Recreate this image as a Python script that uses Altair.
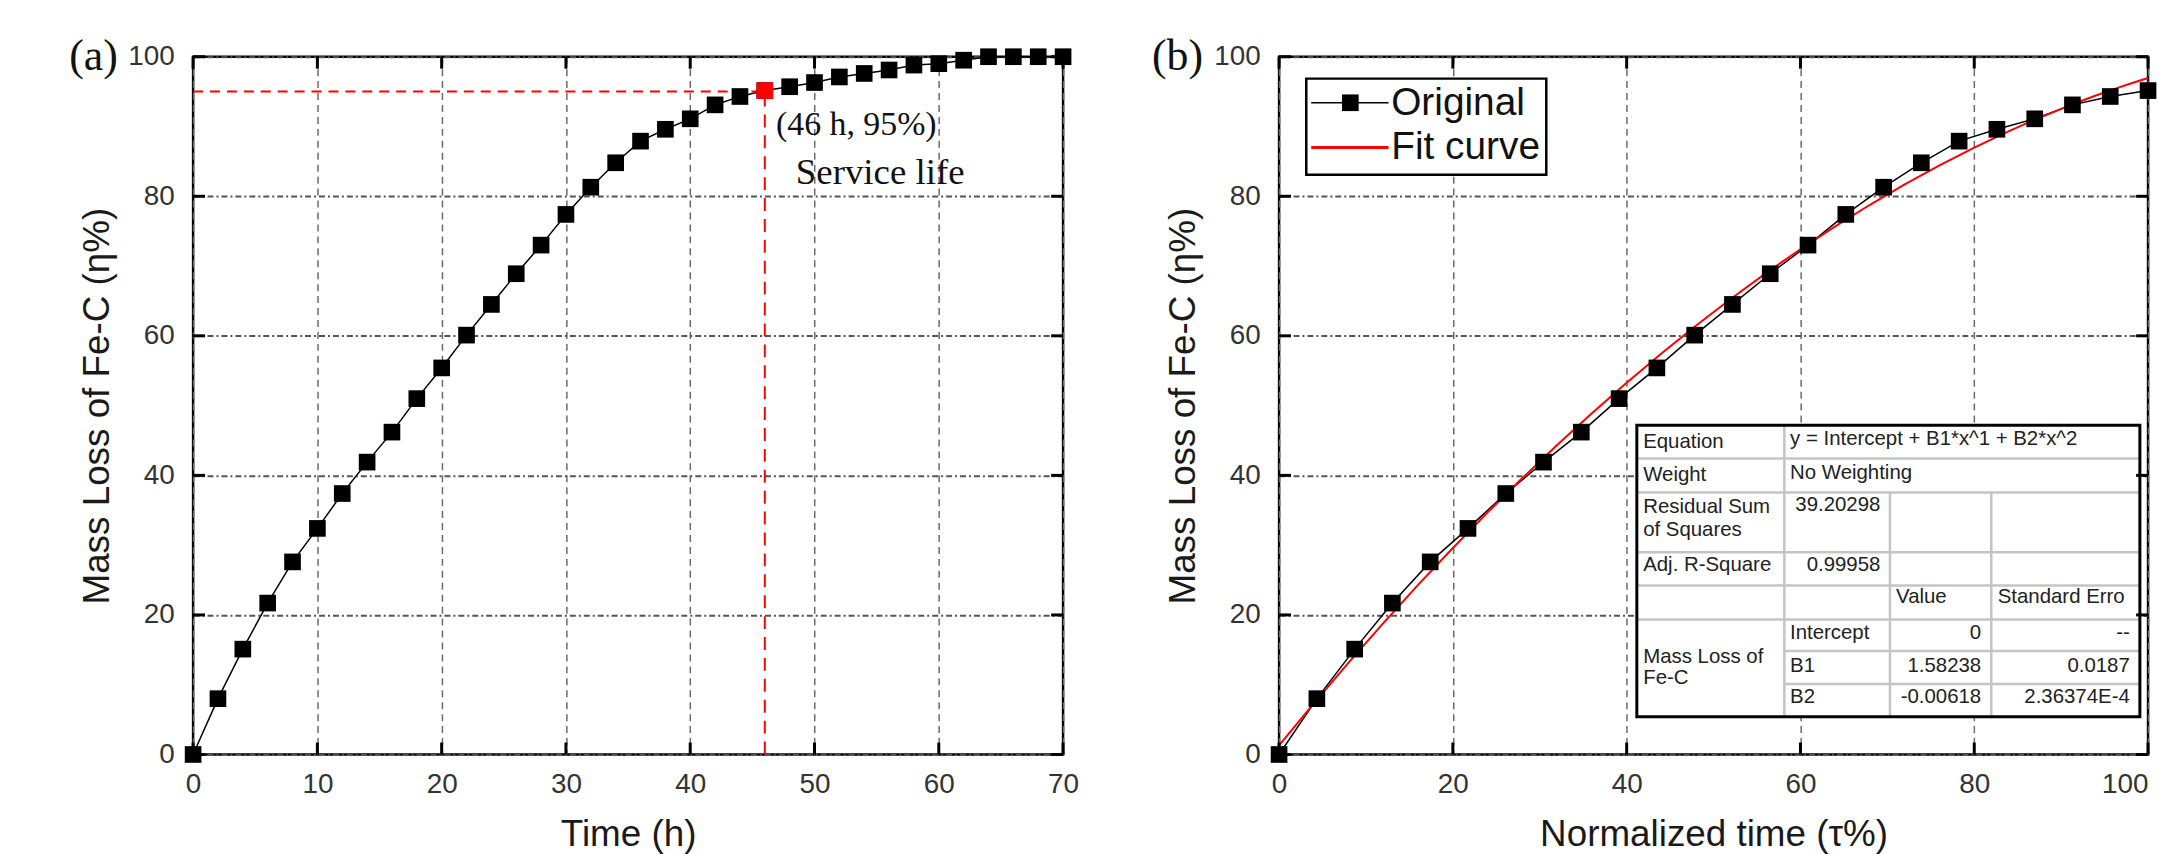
import altair as alt
import pandas as pd

# ---------------- data ----------------
time_h = [0, 2, 4, 6, 8, 10, 12, 14, 16, 18, 20, 22, 24, 26, 28, 30, 32, 34,
          36, 38, 40, 42, 44, 46, 48, 50, 52, 54, 56, 58, 60, 62, 64, 66, 68, 70]
mass_loss = [0.0, 8.0, 15.1, 21.7, 27.6, 32.4, 37.4, 41.9, 46.2, 51.0,
             55.4, 60.1, 64.5, 68.9, 73.0, 77.4, 81.3, 84.8, 87.9, 89.6,
             91.1, 93.1, 94.3, 95.15, 95.7, 96.3, 97.1, 97.6, 98.1, 98.8,
             99.0, 99.5, 100.0, 100.0, 100.0, 100.0]

norm_time = [0.0, 4.35, 8.70, 13.04, 17.39, 21.74, 26.09, 30.43, 34.78, 39.13,
             43.48, 47.83, 52.17, 56.52, 60.87, 65.22, 69.57, 73.91, 78.26,
             82.61, 86.96, 91.30, 95.65, 100.0]
norm_mass = [0.0, 8.0, 15.1, 21.7, 27.6, 32.4, 37.4, 41.9, 46.2, 51.0,
             55.4, 60.1, 64.5, 68.9, 73.0, 77.4, 81.3, 84.8, 87.9, 89.6,
             91.1, 93.1, 94.3, 95.15]

service_time = [46]
service_eta = [95]
service_point_eta = [95.15]
service_labels = ["(46 h, 95%)", "Service life"]

x_ticks_a = [0, 10, 20, 30, 40, 50, 60, 70]
x_ticks_b = [0, 20, 40, 60, 80, 100]
y_ticks = [0, 20, 40, 60, 80, 100]

legend_labels = ["Original", "Fit curve"]

table_left_text = ["Equation", "y = Intercept + B1*x^1 + B2*x^2", "Weight", "No Weighting",
                   "Residual Sum", "of Squares", "Adj. R-Square", "Value", "Standard Erro",
                   "Intercept", "Mass Loss of", "Fe-C", "B1", "B2"]
table_right_text = ["39.20298", "0.99958", "0", "1.58238", "-0.00618",
                    "--", "0.0187", "2.36374E-4"]

# ---------------- layout / style constants ----------------
W_A, W_B, H = 874, 873, 701
SANS = "Liberation Sans"
SERIF = "Liberation Serif"
TICK_LEN = 12
MARK_SIZE = 280
XS_A = alt.Scale(domain=[0, 70], nice=False, zero=False)
XS_B = alt.Scale(domain=[0, 100], nice=False, zero=False)
YS = alt.Scale(domain=[0, 100], nice=False, zero=False)

# table geometry in data units of panel (b)
T_COLS = [41.17, 58.15, 70.30, 81.96, 99.06]
T_ROWS = [47.18, 42.41, 37.56, 29.00, 24.21, 19.36, 14.84, 10.09, 5.42]
T_LEFT_POS = [(41.9, 44.8), (58.8, 45.2), (41.9, 40.1), (58.8, 40.4),
              (41.9, 35.5), (41.9, 32.1), (41.9, 27.1), (71.0, 22.5), (82.7, 22.5),
              (58.8, 17.4), (41.9, 14.0), (41.9, 10.9), (58.8, 12.7), (58.8, 8.3)]
T_RIGHT_POS = [(69.2, 35.8), (69.2, 27.1), (80.8, 17.4), (80.8, 12.7), (80.8, 8.3),
               (97.9, 17.4), (97.9, 12.7), (97.9, 8.3)]
LEG_BOX = (3.13, 30.75, 83.07, 96.86)
LEG_ROWS = [93.4, 87.0]
LEG_LINE = (3.7, 12.6)
LEG_MARK_X = 8.2
LEG_TEXT_X = 12.9
ANN_POS = [(46.9, 90.2), (48.5, 83.3)]


def axis_x(values, title, label_align=None):
    kw = dict(values=values, title=title, grid=True, gridColor="#6a6a6a",
              gridDash=[7, 5], gridWidth=1.5, ticks=False, domain=False,
              labelFont=SANS, labelFontSize=28, labelColor="#333333",
              labelPadding=16, labelFlush=False, titleFont=SANS, titleFontSize=37,
              titleFontWeight="normal", titleColor="#1a1a1a", titleY=80,
              titleBaseline="middle")
    if label_align is not None:
        kw["labelAlign"] = label_align
    return alt.Axis(**kw)


def axis_y(values, title):
    return alt.Axis(values=values, title=title, grid=True, gridColor="#555555",
                    gridDash=[6, 3, 2, 3], gridWidth=2, ticks=False, domain=False,
                    labelFont=SANS, labelFontSize=28, labelColor="#333333",
                    labelPadding=19, titleFont=SANS, titleFontSize=37,
                    titleFontWeight="normal", titleColor="#1a1a1a", titleX=-96,
                    titleY=H / 2, titleAngle=270, titleAlign="center",
                    titleBaseline="middle")


AX_XA = axis_x(x_ticks_a, "Time (h)")
AX_XB = axis_x(x_ticks_b, "Normalized time (τ%)",
               label_align={"condition": {"test": "datum.value == 100", "value": "right"},
                            "value": "center"})
AX_Y = axis_y(y_ticks, "Mass Loss of Fe-C (η%)")


def XA(f):
    return alt.X(f, type="quantitative", scale=XS_A, axis=AX_XA)


def XB(f):
    return alt.X(f, type="quantitative", scale=XS_B, axis=AX_XB)


def YY(f):
    return alt.Y(f, type="quantitative", scale=YS, axis=AX_Y)


def inward_ticks(xvals, X, width):
    xt = alt.Chart(pd.DataFrame({"v": xvals}))
    yt = alt.Chart(pd.DataFrame({"v": y_ticks}))
    st = dict(color="black", strokeWidth=3)
    return [
        xt.mark_rule(**st).encode(x=X("v"), y=alt.value(H - TICK_LEN), y2=alt.value(H)),
        xt.mark_rule(**st).encode(x=X("v"), y=alt.value(0), y2=alt.value(TICK_LEN)),
        yt.mark_rule(**st).encode(y=YY("v"), x=alt.value(0), x2=alt.value(TICK_LEN)),
        yt.mark_rule(**st).encode(y=YY("v"), x=alt.value(width - TICK_LEN), x2=alt.value(width)),
    ]


def panel_label(text, dx):
    return alt.Chart(pd.DataFrame({"lab": [text]})).mark_text(
        font=SERIF, fontSize=44, align="center", baseline="middle", color="#111111"
    ).encode(text="lab:N", x=alt.value(dx), y=alt.value(0))


# ---------------- panel (a) ----------------
df_a = pd.DataFrame({"t": time_h, "eta": mass_loss})

line_a = alt.Chart(df_a).mark_line(color="black", strokeWidth=1.5).encode(
    x=XA("t"), y=YY("eta"))
pts_a = alt.Chart(df_a).mark_point(shape="square", filled=True, size=MARK_SIZE,
                                   color="black", opacity=1).encode(
    x=XA("t"), y=YY("eta"))

df_h = pd.DataFrame({"x0": [0], "x1": service_time, "y": service_eta})
df_v = pd.DataFrame({"x": service_time, "y0": [0], "y1": service_eta})
hline = alt.Chart(df_h).mark_rule(color="#ff0000", strokeWidth=2, strokeDash=[10, 7]).encode(
    x=XA("x0"), x2="x1:Q", y=YY("y"))
vline = alt.Chart(df_v).mark_rule(color="#ff0000", strokeWidth=2, strokeDash=[13, 8]).encode(
    x=XA("x"), y=YY("y0"), y2="y1:Q")
red_pt = alt.Chart(pd.DataFrame({"t": service_time, "eta": service_point_eta})).mark_point(
    shape="square", filled=True, size=MARK_SIZE, color="#ff0000", opacity=1
).encode(x=XA("t"), y=YY("eta"))

ann_layers = []
for (ax, ay), txt, fs in zip(ANN_POS, service_labels, [34, 37]):
    ann_layers.append(
        alt.Chart(pd.DataFrame({"x": [ax], "y": [ay], "txt": [txt]})).mark_text(
            font=SERIF, fontSize=fs, align="left", baseline="middle", color="#111111"
        ).encode(x=XA("x"), y=YY("y"), text="txt:N")
    )

left = alt.layer(
    line_a, hline, vline, pts_a, red_pt, *ann_layers,
    *inward_ticks(x_ticks_a, XA, W_A),
    panel_label("(a)", -100),
).properties(width=W_A, height=H)

# ---------------- panel (b) ----------------
df_b = pd.DataFrame({"tau": norm_time, "eta": norm_mass})

line_b = alt.Chart(df_b).mark_line(color="black", strokeWidth=1.5).encode(
    x=XB("tau"), y=YY("eta"))
fit_b = alt.Chart(df_b).transform_regression(
    "tau", "eta", method="poly", order=2, extent=[0, 100]
).mark_line(color="#ff0000", strokeWidth=2).encode(x=XB("tau"), y=YY("eta"))
pts_b = alt.Chart(df_b).mark_point(shape="square", filled=True, size=MARK_SIZE,
                                   color="black", opacity=1).encode(
    x=XB("tau"), y=YY("eta"))

# regression table
df_tbox = pd.DataFrame({"x0": [T_COLS[0]], "x1": [T_COLS[-1]],
                        "y0": [T_ROWS[-1]], "y1": [T_ROWS[0]]})
tbox_fill = alt.Chart(df_tbox).mark_rect(fill="white").encode(
    x=XB("x0"), x2="x1:Q", y=YY("y0"), y2="y1:Q")
tbox_border = alt.Chart(df_tbox).mark_rect(fill=None, stroke="black", strokeWidth=3).encode(
    x=XB("x0"), x2="x1:Q", y=YY("y0"), y2="y1:Q")

h_lines = pd.DataFrame({
    "x0": [T_COLS[0]] * 5 + [T_COLS[1]] * 2,
    "x1": [T_COLS[-1]] * 7,
    "y": T_ROWS[1:8],
})
v_lines = pd.DataFrame({
    "x": T_COLS[1:4],
    "y0": [T_ROWS[0], T_ROWS[2], T_ROWS[2]],
    "y1": [T_ROWS[-1]] * 3,
})
grid_col = "#c4c4c4"
t_hl = alt.Chart(h_lines).mark_rule(color=grid_col, strokeWidth=2.5).encode(
    x=XB("x0"), x2="x1:Q", y=YY("y"))
t_vl = alt.Chart(v_lines).mark_rule(color=grid_col, strokeWidth=2.5).encode(
    x=XB("x"), y=YY("y0"), y2="y1:Q")

df_tl = pd.DataFrame({"txt": table_left_text,
                      "x": [p[0] for p in T_LEFT_POS], "y": [p[1] for p in T_LEFT_POS]})
df_tr = pd.DataFrame({"txt": table_right_text,
                      "x": [p[0] for p in T_RIGHT_POS], "y": [p[1] for p in T_RIGHT_POS]})
t_txt_l = alt.Chart(df_tl).mark_text(font=SANS, fontSize=20.5, align="left",
                                     baseline="middle", color="#222222").encode(
    x=XB("x"), y=YY("y"), text="txt:N")
t_txt_r = alt.Chart(df_tr).mark_text(font=SANS, fontSize=20.5, align="right",
                                     baseline="middle", color="#222222").encode(
    x=XB("x"), y=YY("y"), text="txt:N")

# legend
df_lbox = pd.DataFrame({"x0": [LEG_BOX[0]], "x1": [LEG_BOX[1]],
                        "y0": [LEG_BOX[2]], "y1": [LEG_BOX[3]]})
lbox = alt.Chart(df_lbox).mark_rect(fill="white", stroke="black", strokeWidth=2.5).encode(
    x=XB("x0"), x2="x1:Q", y=YY("y0"), y2="y1:Q")
df_lline = pd.DataFrame({"x0": [LEG_LINE[0]] * 2, "x1": [LEG_LINE[1]] * 2,
                         "y": LEG_ROWS, "series": legend_labels})
l_black = alt.Chart(df_lline.iloc[[0]]).mark_rule(color="black", strokeWidth=1.5).encode(
    x=XB("x0"), x2="x1:Q", y=YY("y"))
l_red = alt.Chart(df_lline.iloc[[1]]).mark_rule(color="#ff0000", strokeWidth=3).encode(
    x=XB("x0"), x2="x1:Q", y=YY("y"))
l_mark = alt.Chart(pd.DataFrame({"x": [LEG_MARK_X], "y": [LEG_ROWS[0]]})).mark_point(
    shape="square", filled=True, size=MARK_SIZE, color="black", opacity=1).encode(
    x=XB("x"), y=YY("y"))
df_ltxt = pd.DataFrame({"x": [LEG_TEXT_X] * 2, "y": LEG_ROWS, "txt": legend_labels})
l_txt = alt.Chart(df_ltxt).mark_text(font=SANS, fontSize=39, align="left",
                                     baseline="middle", color="#111111").encode(
    x=XB("x"), y=YY("y"), text="txt:N")

right = alt.layer(
    line_b, fit_b, pts_b,
    tbox_fill, t_hl, t_vl, tbox_border, t_txt_l, t_txt_r,
    lbox, l_black, l_red, l_mark, l_txt,
    *inward_ticks(x_ticks_b, XB, W_B),
    panel_label("(b)", -102),
).properties(width=W_B, height=H)

chart = alt.hconcat(left, right, spacing=71).properties(
    padding={"left": 68, "top": 31, "right": 0, "bottom": 0},
    background="white",
).configure_view(stroke="black", strokeWidth=2.5)

chart.save("out.html", embed_options={"renderer": "svg", "actions": False})
